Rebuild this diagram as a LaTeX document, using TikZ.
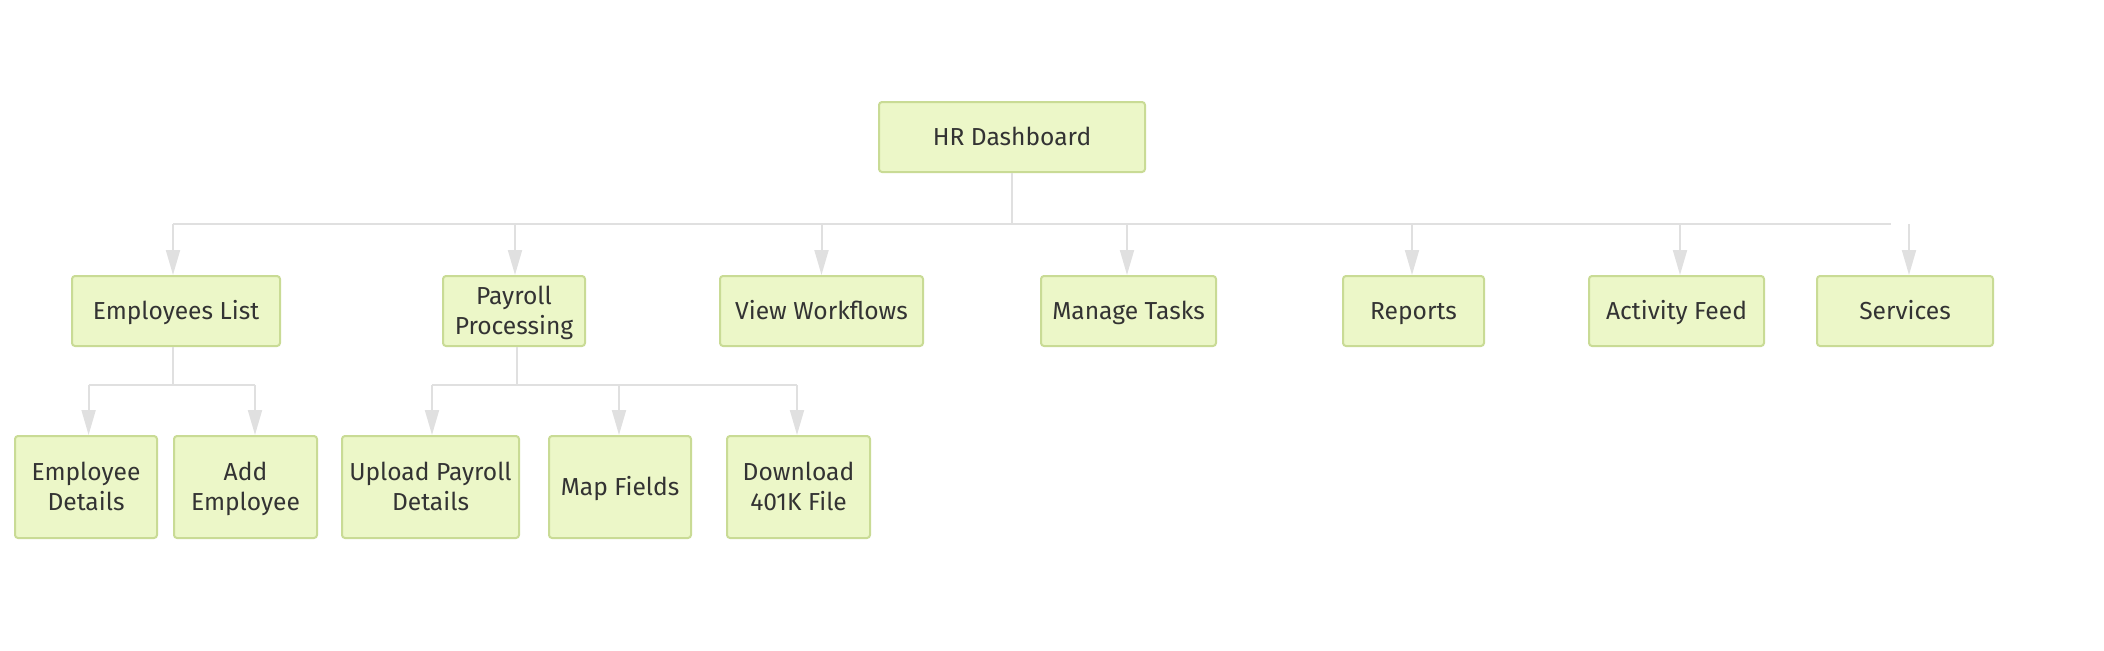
\documentclass[tikz,border=0pt]{standalone}
\usepackage{fontspec}
\setmainfont{Fira Sans}
\usetikzlibrary{arrows.meta}
\definecolor{boxfill}{HTML}{ECF7C8}
\definecolor{boxline}{HTML}{C9DB95}
\definecolor{txt}{HTML}{333333}
\definecolor{conn}{HTML}{E0E0E0}
\begin{document}
\begin{tikzpicture}[x=0.5pt,y=-0.5pt,
  box/.style={draw=boxline,fill=boxfill,rounded corners=1.5pt,line width=1pt,text=txt,
    font=\fontsize{12.3}{15}\selectfont,align=center,inner sep=0pt,
    text height=8.5pt,text depth=0pt},
  two/.style={text height=23.5pt},
  lv1/.style={box,minimum height=35pt},
  lv2/.style={box,minimum height=51pt},
  link/.style={draw=conn,line width=1pt},
  arr/.style={link,-{Triangle[length=12.5pt,width=7pt]},shorten >=0pt}]
\useasboundingbox (0,0) rectangle (2104,650);
% nodes
\node[lv1,minimum width=133pt] (hr) at (1012,137) {HR Dashboard};
\node[lv1,minimum width=104pt] (emp) at (176,311) {Employees List};
\node[lv1,two,minimum width=71pt] (pay) at (514,311) {Payroll\\Processing};
\node[lv1,minimum width=101.5pt] (vw) at (821.5,311) {View Workflows};
\node[lv1,minimum width=87.5pt] (mt) at (1128.5,311) {Manage Tasks};
\node[lv1,minimum width=70.5pt] (rep) at (1413.5,311) {Reports};
\node[lv1,minimum width=87.5pt] (af) at (1676.5,311) {Activity Feed};
\node[lv1,minimum width=88pt] (svc) at (1905,311) {Services};
\node[lv2,two,minimum width=71pt] (ed) at (86,487) {Employee\\Details};
\node[lv2,two,minimum width=71.5pt] (ae) at (245.5,487) {Add\\Employee};
\node[lv2,two,minimum width=88.5pt] (up) at (430.5,487) {Upload Payroll\\Details};
\node[lv2,minimum width=71pt] (mf) at (620,487) {Map Fields};
\node[lv2,two,minimum width=71.5pt] (dl) at (798.5,487) {Download\\401K File};
% bus coordinates
\coordinate (busA) at (0,224);
\coordinate (busB) at (0,385);
\coordinate (busEnd) at (1891,224);
% top level
\draw[link] (hr.south) -- (hr.south |- busA);
\draw[link] ([xshift=-1.5pt]emp.north |- busA) -- (busEnd);
\draw[arr] ([xshift=-1.5pt]emp.north |- busA) -- ([xshift=-1.5pt]emp.north);
\draw[arr] ([xshift=0.5pt]pay.north |- busA) -- ([xshift=0.5pt]pay.north);
\draw[arr] (vw.north |- busA) -- (vw.north);
\draw[arr] ([xshift=-0.75pt]mt.north |- busA) -- ([xshift=-0.75pt]mt.north);
\draw[arr] ([xshift=-0.75pt]rep.north |- busA) -- ([xshift=-0.75pt]rep.north);
\draw[arr] ([xshift=1.75pt]af.north |- busA) -- ([xshift=1.75pt]af.north);
\draw[arr] ([xshift=2pt]svc.north |- busA) -- ([xshift=2pt]svc.north);
% employees branch
\draw[link] ([xshift=-1.5pt]emp.south) -- ([xshift=-1.5pt]emp.south |- busB);
\draw[link] ([xshift=1.3pt]ed.north |- busB) -- ([xshift=4.75pt]ae.north |- busB);
\draw[arr] ([xshift=1.3pt]ed.north |- busB) -- ([xshift=1.3pt]ed.north);
\draw[arr] ([xshift=4.75pt]ae.north |- busB) -- ([xshift=4.75pt]ae.north);
% payroll branch
\draw[link] ([xshift=1.5pt]pay.south) -- ([xshift=1.5pt]pay.south |- busB);
\draw[link] ([xshift=0.75pt]up.north |- busB) -- ([xshift=-0.75pt]dl.north |- busB);
\draw[arr] ([xshift=0.75pt]up.north |- busB) -- ([xshift=0.75pt]up.north);
\draw[arr] ([xshift=-0.5pt]mf.north |- busB) -- ([xshift=-0.5pt]mf.north);
\draw[arr] ([xshift=-0.75pt]dl.north |- busB) -- ([xshift=-0.75pt]dl.north);
\end{tikzpicture}
\end{document}
